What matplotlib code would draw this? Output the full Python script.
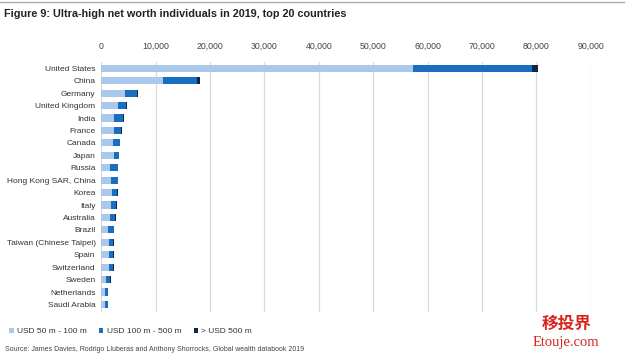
import matplotlib.pyplot as plt
import numpy as np

plt.rcParams['font.family'] = ['Liberation Sans', 'DejaVu Sans']

# 数据
countries = ['United States', 'China', 'Germany', 'United Kingdom', 'India', 'France',
             'Canada', 'Japan', 'Russia', 'Hong Kong SAR, China', 'Korea', 'Italy',
             'Australia', 'Brazil', 'Taiwan (Chinese Taipei)', 'Spain', 'Switzerland',
             'Sweden', 'Netherlands', 'Saudi Arabia']
usd_50_100 = [57250, 11400, 4400, 3100, 2450, 2450, 2270, 2400, 1650, 1840,
              1960, 1840, 1650, 1340, 1400, 1450, 1450, 980, 730, 680]
usd_100_500 = [22000, 6200, 2200, 1450, 1550, 1250, 1150, 850, 1400, 1200,
               980, 900, 920, 980, 830, 780, 780, 700, 480, 520]
usd_500 = [1100, 530, 200, 150, 150, 100, 130, 120, 130, 140,
           110, 120, 120, 130, 100, 100, 100, 90, 70, 80]
xticks = [0, 10000, 20000, 30000, 40000, 50000, 60000, 70000, 80000, 90000]
legend_labels = ['USD 50 m - 100 m', 'USD 100 m - 500 m', '> USD 500 m']
colors = ['#a9c8ea', '#1a6ec2', '#0c2847']

fig = plt.figure(figsize=(6.4, 3.61), dpi=100)
ax = fig.add_axes([0.158, 0.136, 0.765, 0.692])

y = np.arange(len(countries))
a = np.array(usd_50_100)
b = np.array(usd_100_500)
c = np.array(usd_500)
h = 0.58
ax.barh(y, a, height=h, color=colors[0], label=legend_labels[0], zorder=3)
ax.barh(y, b, left=a, height=h, color=colors[1], label=legend_labels[1], zorder=3)
ax.barh(y, c, left=a + b, height=h, color=colors[2], label=legend_labels[2], zorder=3)

ax.set_xlim(0, 90000)
ax.set_ylim(19.6, -0.5)
ax.set_yticks(y)
ax.set_yticklabels(countries, fontsize=6.0, color='#333333')
ax.set_xticks(xticks)
ax.set_xticklabels([f'{v:,}' for v in xticks], fontsize=6.3, color='#444444')
ax.xaxis.tick_top()
ax.tick_params(axis='both', length=0, pad=4)
ax.tick_params(axis='x', pad=8)
ax.grid(axis='x', color='#dadada', linewidth=0.9, zorder=0)
for s in ax.spines.values():
    s.set_visible(False)

# 标题和顶部线
fig.add_artist(plt.Line2D([0.0, 0.975], [0.995, 0.995], color='#aaaaaa', lw=1))
fig.text(0.006, 0.975, 'Figure 9: Ultra-high net worth individuals in 2019, top 20 countries',
         fontsize=7.8, fontweight='bold', va='top', ha='left', color='#222222')

# 图例
fig.legend(loc='lower left', bbox_to_anchor=(0.003, 0.05), ncol=3, frameon=False,
           fontsize=6.0, handlelength=0.5, handleheight=0.5, handletextpad=0.4,
           columnspacing=1.5, labelcolor='#333333')

fig.text(0.008, 0.033, 'Source: James Davies, Rodrigo Lluberas and Anthony Shorrocks, Global wealth databook 2019',
         fontsize=5.0, color='#444444', va='center', ha='left')

# 水印
fig.text(0.885, 0.103, '移投界', fontsize=12, color='#d7261e', fontweight='bold',
         family=['Noto Sans CJK SC', 'DejaVu Sans'], ha='center', va='center')
fig.text(0.885, 0.05, 'Etouje.com', fontsize=10.5, color='#d7261e',
         family=['Liberation Serif', 'DejaVu Serif'], ha='center', va='center')

fig.savefig('out.png', dpi=100)
